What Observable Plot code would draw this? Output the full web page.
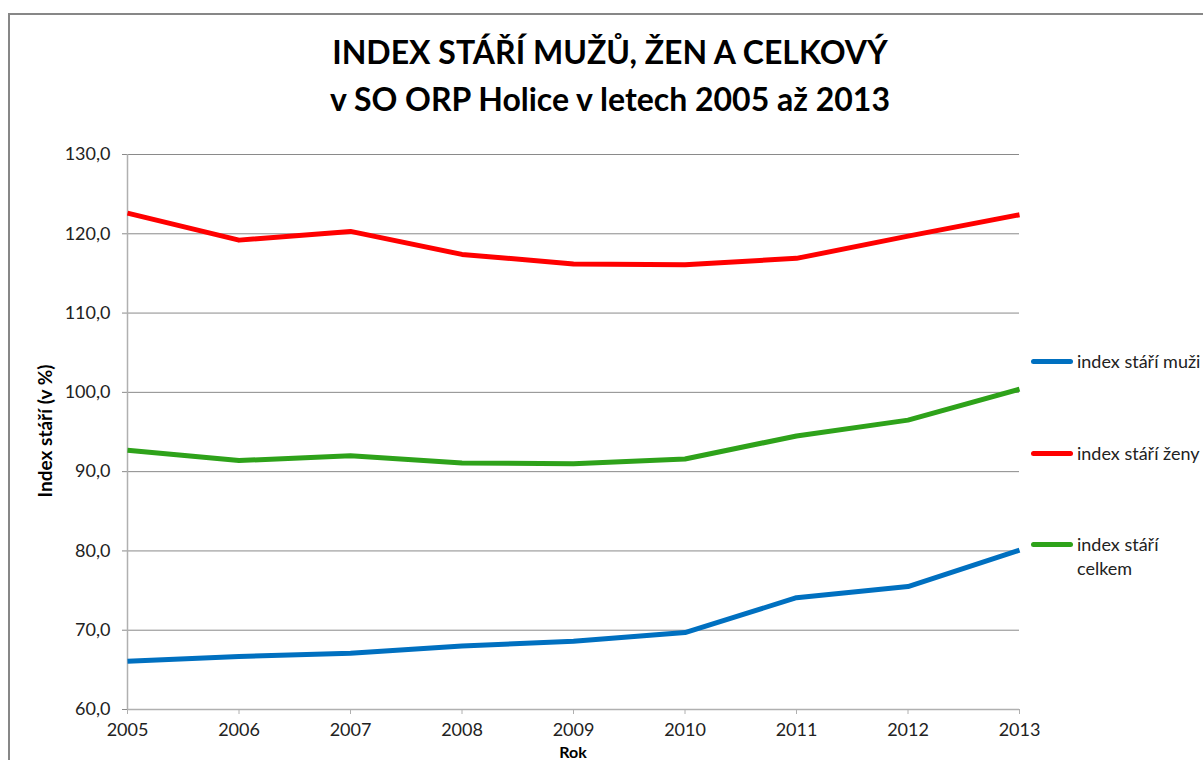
<!DOCTYPE html>
<html>
<head>
<meta charset="utf-8">
<script src="https://cdn.jsdelivr.net/npm/d3@7"></script>
<script src="https://cdn.jsdelivr.net/npm/@observablehq/plot@0.6"></script>
<style>
  html, body { margin: 0; padding: 0; background: #fff; overflow: hidden; }
  body { width: 1203px; height: 760px; position: relative; font-family: Lato, "Open Sans", sans-serif; }
  #frame { position: absolute; left: 8px; top: 13px; width: 1300px; height: 800px;
           border-left: 2px solid #878787; border-top: 2px solid #878787; }
  #chart { position: absolute; left: 0; top: 0; }
  .title { position: absolute; left: 0; width: 1220px; text-align: center; font-weight: bold;
           font-size: 32px; line-height: 40px; color: #000; white-space: nowrap; }
  .leg { position: absolute; left: 1031px; font-size: 18px; color: #222; white-space: nowrap; }
  .leg .sw { position: absolute; left: 0; width: 42px; height: 5px; border-radius: 3px; }
  .leg .tx { position: absolute; left: 46px; line-height: 24px; }
  .axlabel { position: absolute; font-weight: bold; color: #000; white-space: nowrap; }
</style>
</head>
<body>
<div id="frame"></div>
<div id="chart"></div>
<div class="title" style="top:32px" id="t1"></div>
<div class="title" style="top:79px" id="t2"></div>
<div id="legend"></div>
<div class="axlabel" id="xlab" style="left:473px; width:200px; text-align:center; top:745px; font-size:16px; line-height:14px;"></div>
<div class="axlabel" id="ylab" style="left:-55px; width:200px; text-align:center; top:421px; font-size:19px; line-height:20px; transform: rotate(-90deg);"></div>
<script>
const years = [2005, 2006, 2007, 2008, 2009, 2010, 2011, 2012, 2013];
const muzi   = [66.1, 66.7, 67.1, 68.0, 68.6, 69.7, 74.1, 75.5, 80.1];
const zeny   = [122.6, 119.2, 120.3, 117.4, 116.2, 116.1, 116.9, 119.7, 122.4];
const celkem = [92.7, 91.4, 92.0, 91.1, 91.0, 91.6, 94.5, 96.5, 100.4];
const seriesNames = ["index stáří muži", "index stáří ženy", "index stáří celkem"];
const seriesColors = ["#0070C0", "#FF0000", "#2EA21A"];
const yTicks = [60, 70, 80, 90, 100, 110, 120, 130];
const titleLines = ["INDEX STÁŘÍ MUŽŮ, ŽEN A CELKOVÝ", "v SO ORP Holice v letech 2005 až 2013"];
const xLabel = "Rok";
const yLabel = "Index stáří (v %)";

document.getElementById("t1").textContent = titleLines[0];
document.getElementById("t2").textContent = titleLines[1];
document.getElementById("xlab").textContent = xLabel;
document.getElementById("ylab").textContent = yLabel;

const allSeries = [muzi, zeny, celkem];
const rows = [];
allSeries.forEach((vals, si) => vals.forEach((v, i) => rows.push({year: years[i], value: v, series: seriesNames[si]})));

const fmt = d => d.toFixed(1).replace(".", ",");

const chart = Plot.plot({
  width: 1203,
  height: 760,
  marginLeft: 127,
  marginRight: 184,
  marginTop: 154,
  marginBottom: 51,
  style: {fontFamily: "Lato, 'Open Sans', sans-serif", fontSize: "18px", color: "#222", background: "transparent", overflow: "visible"},
  x: {type: "linear", domain: [2005, 2013]},
  y: {domain: [60, 130]},
  color: {domain: seriesNames, range: seriesColors},
  marks: [
    Plot.gridY(yTicks, {stroke: "#8a8a8a", strokeOpacity: 1, strokeWidth: 1}),
    Plot.axisY(yTicks, {tickSize: 5, tickPadding: 12, stroke: "#8a8a8a", strokeOpacity: 1, tickFormat: fmt, label: null, fontSize: 18, fill: "#222"}),
    Plot.axisX(years, {tickSize: 5, tickPadding: 9, stroke: "#b0b0b0", strokeOpacity: 1, tickFormat: d => String(d), label: null, fontSize: 18, fill: "#222"}),
    Plot.ruleX([2005], {stroke: "#b0b0b0", strokeWidth: 1.5}),
    Plot.ruleY([60], {stroke: "#b0b0b0", strokeWidth: 1.5}),
    Plot.line(rows, {x: "year", y: "value", z: "series", stroke: "series", strokeWidth: 5, strokeLinejoin: "round", strokeLinecap: "butt"})
  ]
});
document.getElementById("chart").appendChild(chart);

// legend
const legendY = [361, 453, 544];
const legend = document.getElementById("legend");
seriesNames.forEach((name, i) => {
  const d = document.createElement("div");
  d.className = "leg";
  d.style.top = legendY[i] + "px";
  const sw = document.createElement("div");
  sw.className = "sw";
  sw.style.background = seriesColors[i];
  sw.style.top = "-2.5px";
  d.appendChild(sw);
  const tx = document.createElement("div");
  tx.className = "tx";
  tx.style.top = "-12px";
  if (i === 2) {
    const parts = name.split(" ");
    tx.innerHTML = parts.slice(0, 2).join(" ") + "<br>" + parts[2];
  } else {
    tx.textContent = name;
  }
  d.appendChild(tx);
  legend.appendChild(d);
});
</script>
</body>
</html>
